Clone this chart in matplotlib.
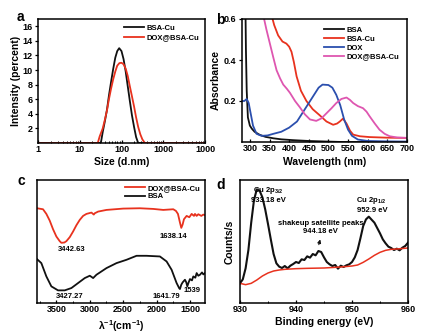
"""
Four-panel characterisation figure: DLS size, UV-vis, FTIR and Cu 2p XPS.
Writes out.png.
"""

import numpy as np
import matplotlib
matplotlib.use("Agg")
import matplotlib.pyplot as plt

plt.rcParams['font.family'] = ['Liberation Sans', 'DejaVu Sans']
plt.rcParams['font.weight'] = 'bold'
plt.rcParams['axes.labelweight'] = 'bold'
plt.rcParams['mathtext.fontset'] = 'custom'
plt.rcParams['mathtext.rm'] = 'Liberation Sans:bold'
plt.rcParams['mathtext.default'] = 'rm'

RED   = '#e8321e'
BLUE  = '#2b4fae'
PINK  = '#de56b0'
BLACK = '#111111'

# (a) DLS size distribution
DLS_BSACU_SIZE = [1, 32, 35.5, 40, 45, 50, 56, 63, 71, 79, 88, 100, 112, 126, 141, 158,
                  178, 200, 224, 251, 10000]
DLS_BSACU_INT  = [0, 0, 1.5, 3.0, 4.6, 6.5, 8.3, 10.1, 11.7, 12.6, 13.0, 12.6, 11.5, 9.8,
                  7.8, 5.8, 3.8, 2.2, 0.8, 0, 0]
DLS_DOX_SIZE   = [1, 27, 30, 35.5, 40, 45, 50, 56, 63, 71, 79, 89, 100, 112, 126, 141, 158,
                  178, 200, 224, 251, 282, 316, 363, 10000]
DLS_DOX_INT    = [0, 0, 0.9, 2.0, 3.2, 4.5, 6.0, 7.4, 8.7, 9.8, 10.6, 10.95, 11.0, 10.8,
                  10.2, 9.2, 7.8, 6.4, 5.0, 3.5, 2.2, 1.2, 0.5, 0, 0]
DLS_TICKS      = [1, 10, 100, 1000, 10000]
DLS_TICKLABELS = ['1', '10', '100', '1000', '1000']

# (b) UV-vis absorbance
UV_BSA_WL   = [289, 290, 292, 295, 300, 305, 312, 325, 340, 360, 380, 410, 450, 500, 537, 600, 700]
UV_BSA_A    = [0.62, 0.45, 0.25, 0.12, 0.08, 0.065, 0.05, 0.035, 0.025, 0.018, 0.013, 0.009,
               0.005, 0.002, 0.0, 0.0, 0.0]
UV_BSACU_WL = [355, 362, 372, 383, 393, 400, 406, 412, 419, 430, 444, 460, 478, 495, 512, 522,
               529, 537, 546, 555, 563, 580, 605, 650, 700]
UV_BSACU_A  = [0.62, 0.57, 0.52, 0.49, 0.48, 0.465, 0.44, 0.39, 0.32, 0.25, 0.2, 0.16, 0.13,
               0.1, 0.084, 0.09, 0.1, 0.114, 0.09, 0.055, 0.036, 0.028, 0.024, 0.021, 0.02]
UV_DOX_WL   = [280, 286, 292, 297, 302, 308, 317, 330, 345, 360, 380, 400, 420, 440, 460, 475,
               485, 500, 510, 520, 530, 540, 550, 560, 575, 600, 650, 700]
UV_DOX_A    = [0.2, 0.2, 0.21, 0.19, 0.14, 0.08, 0.04, 0.03, 0.032, 0.04, 0.05, 0.07, 0.1,
               0.16, 0.22, 0.265, 0.28, 0.278, 0.265, 0.23, 0.18, 0.11, 0.06, 0.03, 0.012,
               0.005, 0.003, 0.002]
UV_MIX_WL   = [334, 342, 351, 360, 368, 377, 385, 394, 402, 415, 427, 440, 453, 469, 482,
               495, 508, 520, 533, 546, 555, 563, 575, 588, 597, 605, 618, 630, 643, 656, 675, 700]
UV_MIX_A    = [0.62, 0.55, 0.48, 0.41, 0.35, 0.31, 0.28, 0.26, 0.24, 0.2, 0.17, 0.135, 0.11,
               0.103, 0.115, 0.14, 0.165, 0.19, 0.21, 0.217, 0.205, 0.19, 0.175, 0.165, 0.148,
               0.125, 0.09, 0.06, 0.04, 0.028, 0.022, 0.02]

# (c) FTIR, two offset traces
IR_MIX_WN  = [3790, 3700, 3650, 3600, 3550, 3500, 3450, 3425, 3380, 3350, 3300, 3250, 3200,
              3150, 3100, 3050, 2975, 2940, 2925, 2875, 2750, 2500, 2250, 2050, 1900, 1750,
              1710, 1680, 1650, 1630, 1610, 1590, 1550, 1510, 1475, 1440, 1425, 1400, 1375,
              1330, 1300, 1275]
IR_MIX_T   = [285, 282, 268, 248, 222, 200, 186, 181, 182, 186, 198, 215, 234, 250, 262, 268,
              272, 266, 270, 275, 280, 284, 285, 283, 280, 282, 277, 268, 242, 226, 236, 252,
              262, 258, 268, 262, 268, 262, 267, 262, 266, 264]
IR_BSA_WN  = [3790, 3725, 3650, 3575, 3475, 3375, 3275, 3175, 3075, 3000, 2970, 2950, 2900,
              2750, 2600, 2450, 2300, 2150, 1950, 1850, 1775, 1700, 1660, 1650, 1630, 1610,
              1575, 1555, 1540, 1520, 1500, 1470, 1450, 1420, 1400, 1375, 1350, 1320, 1300, 1275]
IR_BSA_T   = [132, 120, 80, 50, 38, 38, 45, 60, 75, 82, 78, 75, 85, 105, 120, 130, 142, 142,
              140, 125, 100, 60, 44, 42, 55, 62, 70, 62, 50, 62, 72, 68, 80, 76, 90, 82, 85,
              92, 86, 90]
IR_TICKS   = [3500, 3000, 2500, 2000, 1500]

# (d) Cu 2p XPS spectrum and Shirley-type background
XPS_COUNTS = [40, 52, 85, 140, 222, 290, 322, 318, 298, 262, 218, 172, 128, 100, 90, 86,
              92, 85, 93, 98, 104, 101, 112, 110, 121, 117, 128, 124, 137, 134, 118, 104,
              97, 92, 95, 84, 93, 89, 94, 97, 104, 118, 140, 175, 212, 232, 240, 231, 222,
              206, 190, 172, 160, 150, 146, 140, 144, 139, 147, 152, 162]
XPS_ENERGY = np.linspace(930, 960, len(XPS_COUNTS))
BG_ENERGY  = [930, 931, 932, 933, 934, 935, 936, 937, 938, 940, 942, 945, 948, 950, 951,
              952, 953, 954, 955, 956, 957, 958, 960]
BG_COUNTS  = [40, 36, 40, 50, 62, 71, 77, 80, 82, 84, 85, 86, 89, 92, 95, 103, 113, 124,
              133, 139, 142, 143, 146]

W, H = 436, 336
fig = plt.figure(figsize=(W / 100, H / 100), dpi=100)


def box(l, t, r, b):
    return [l / W, 1 - b / H, (r - l) / W, (b - t) / H]


def style(ax):
    for s in ax.spines.values():
        s.set_linewidth(1.1)
    ax.tick_params(labelsize=6.5, width=0.9, length=2.5, pad=1.5)
    ax.tick_params(which='minor', width=0.7, length=1.5)


LW = 1.3
LBL = 7.5

# ---- a ----
ax = fig.add_axes(box(38, 19, 205, 143))
ax.plot(DLS_BSACU_SIZE, DLS_BSACU_INT, color=BLACK, lw=LW, label='BSA-Cu')
ax.plot(DLS_DOX_SIZE, DLS_DOX_INT, color=RED, lw=LW, label='DOX@BSA-Cu')
ax.set_xscale('log')
ax.set_xlim(1, 10000)
ax.set_ylim(0, 17)
ax.set_xticks(DLS_TICKS)
ax.set_xticklabels(DLS_TICKLABELS)
ax.set_yticks(range(2, 17, 2))
ax.tick_params(axis='x', which='both', direction='in')
ax.set_xlabel('Size (d.nm)', fontsize=LBL, labelpad=2)
ax.set_ylabel('Intensity (percent)', fontsize=LBL, labelpad=1)
style(ax)
ax.legend(loc='upper right', frameon=False, fontsize=5.5, handlelength=2.6,
          borderaxespad=0.3, labelspacing=0.3, handletextpad=0.4)
fig.text(17 / W, 1 - 17 / H, 'a', fontsize=10, fontweight='bold', va='center')

# ---- b ----
ax = fig.add_axes(box(242, 19, 407, 142))
ax.plot(UV_BSA_WL, UV_BSA_A, color=BLACK, lw=LW, label='BSA')
ax.plot(UV_BSACU_WL, UV_BSACU_A, color=RED, lw=LW, label='BSA-Cu')
ax.plot(UV_DOX_WL, UV_DOX_A, color=BLUE, lw=LW, label='DOX')
ax.plot(UV_MIX_WL, UV_MIX_A, color=PINK, lw=LW, label='DOX@BSA-Cu')
ax.set_xlim(280, 700)
ax.set_ylim(0, 0.6)
ax.set_xticks(range(300, 701, 50))
ax.set_yticks([0.2, 0.4, 0.6])
ax.tick_params(axis='x', direction='in')
ax.set_xlabel('Wavelength (nm)', fontsize=LBL, labelpad=3)
ax.set_ylabel('Absorbance', fontsize=LBL, labelpad=2)
style(ax)
ax.legend(loc='upper right', frameon=False, fontsize=5.5, handlelength=2.6,
          borderaxespad=0.6, labelspacing=0.2, handletextpad=0.4)
fig.text(216 / W, 1 - 20 / H, 'b', fontsize=10, fontweight='bold', va='center')

# ---- c ----
ax = fig.add_axes(box(37, 180, 205, 303))
ax.plot(IR_MIX_WN, IR_MIX_T, color=RED, lw=LW, label='DOX@BSA-Cu')
ax.plot(IR_BSA_WN, IR_BSA_T, color=BLACK, lw=LW, label='BSA')
ax.set_xlim(3790, 1275)
ax.set_ylim(0, 370)
ax.set_xticks(IR_TICKS)
ax.set_xticks(range(3750, 1275, -250), minor=True)
ax.set_yticks([])
ax.tick_params(axis='x', which='both', direction='in')
ax.set_xlabel(r'$\lambda^{-1}$(cm$^{-1}$)', fontsize=LBL, labelpad=3)
style(ax)
for txt, x, y in [('3442.63', 3275, 162), ('1638.14', 1750, 200),
                  ('3427.27', 3300, 20), ('1641.79', 1850, 20), ('1539', 1465, 37)]:
    ax.text(x, y, txt, fontsize=5.5, ha='center', va='center')
ax.legend(loc='upper right', frameon=False, fontsize=5.5, handlelength=2.6,
          borderaxespad=0.2, labelspacing=0.15, handletextpad=0.4)
fig.text(17 / W, 1 - 181 / H, 'c', fontsize=10, fontweight='bold', va='center')

# ---- d ----
ax = fig.add_axes(box(240, 180, 408, 303))
ax.plot(XPS_ENERGY, XPS_COUNTS, color=BLACK, lw=1.5)
ax.plot(BG_ENERGY, BG_COUNTS, color=RED, lw=1.1)
ax.set_xlim(930, 960)
ax.set_ylim(-19, 350)
ax.set_xticks([930, 940, 950, 960])
ax.set_xticks([935, 945, 955], minor=True)
ax.set_yticks([])
ax.tick_params(axis='x', which='both', direction='in')
ax.set_xlabel('Binding energy (eV)', fontsize=LBL, labelpad=2)
ax.set_ylabel('Counts/s', fontsize=LBL, labelpad=4)
style(ax)
ax.text(935.1, 317, r'Cu 2p$_{3/2}$', fontsize=5.5, ha='center', va='center')
ax.text(935.1, 290, '933.18 eV', fontsize=5.5, ha='center', va='center')
ax.text(944.5, 220, 'shakeup satellite peaks', fontsize=5.5, ha='center', va='center')
ax.text(944.3, 196, '944.18 eV', fontsize=5.5, ha='center', va='center')
ax.annotate('', xy=(944.45, 180), xytext=(943.95, 148),
            arrowprops=dict(arrowstyle='-|>', color=BLACK, lw=0.8, mutation_scale=5))
ax.text(953.4, 287, r'Cu 2p$_{1/2}$', fontsize=5.5, ha='center', va='center')
ax.text(953.7, 259, '952.9 eV', fontsize=5.5, ha='center', va='center')
fig.text(216 / W, 1 - 185 / H, 'd', fontsize=10, fontweight='bold', va='center')

fig.savefig('out.png', dpi=100)
